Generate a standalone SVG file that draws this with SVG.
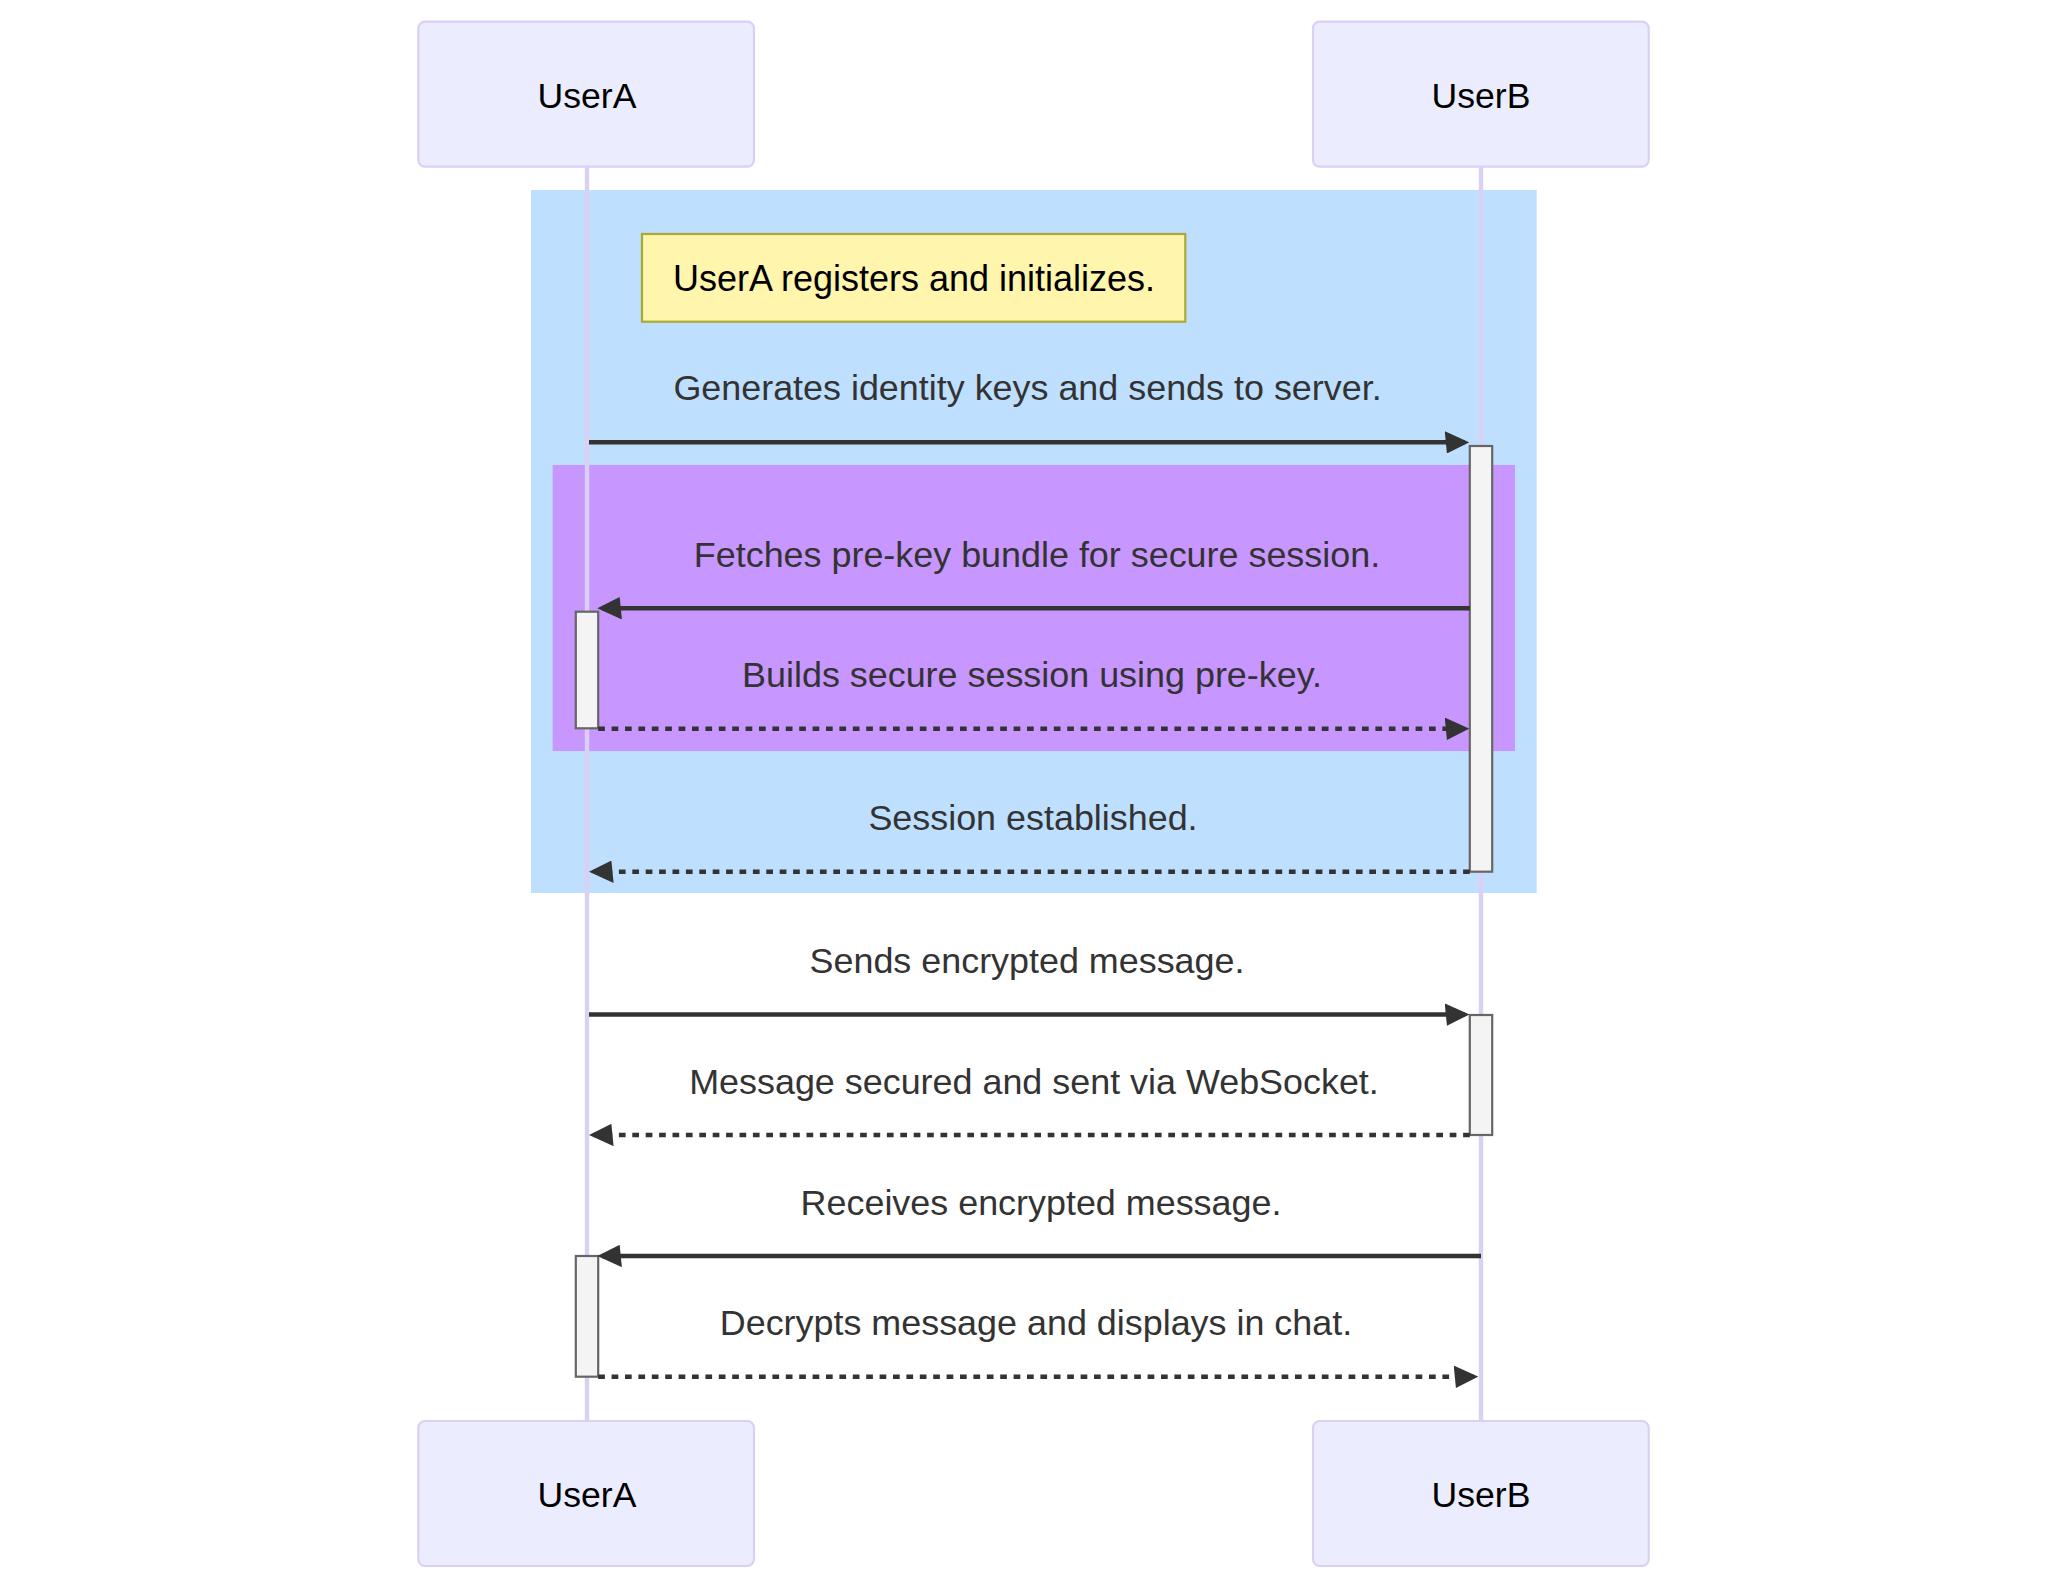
<svg xmlns="http://www.w3.org/2000/svg" width="2068" height="1592" viewBox="0 0 2068 1592">
<defs>
<style>
.actor{fill:#ECECFF;stroke:#DAD0F4;stroke-width:2.2}
.actor-text{font-family:"Liberation Sans",Arial,sans-serif;font-size:35.6px;fill:#000;text-anchor:middle}
.lifeline{stroke:#DAD0F4;stroke-width:4.4;fill:none}
.msg{font-family:"Liberation Sans",Arial,sans-serif;font-size:35.9px;fill:#333;text-anchor:middle}
.solid{stroke:#333;stroke-width:4.4;fill:none}
.dotted{stroke:#333;stroke-width:4.4;fill:none;stroke-dasharray:6.7 6.7}
.act{fill:#F4F4F4;stroke:#666;stroke-width:2.2}
.note{fill:#FFF5AD;stroke:#AAAA33;stroke-width:2.2}
.note-text{font-family:"Liberation Sans",Arial,sans-serif;font-size:36px;fill:#000;text-anchor:middle}
</style>
<marker id="arrow" viewBox="-1 0 11 10" refX="7.9" refY="5" markerWidth="24.6" markerHeight="22.36" markerUnits="userSpaceOnUse" orient="auto">
<path d="M -1 0 L 10 5 L 0 10 z" fill="#333"/>
</marker>
</defs>
<rect width="2068" height="1592" fill="#fff"/>
<g id="rect-outer"><rect x="531" y="190" width="1005.7" height="703" fill="#BFDFFF"/></g>
<g id="rect-inner"><rect x="552.7" y="465" width="962.3" height="286" fill="#C896FF"/></g>
<g id="lifelines">
<line class="lifeline" x1="587" y1="167" x2="587" y2="1421"/>
<line class="lifeline" x1="1481" y1="167" x2="1481" y2="1421"/>
</g>
<g id="actor-UserA-top"><rect class="actor" x="418.3" y="21.7" width="335.7" height="145" rx="6.7"/><text class="actor-text" x="587" y="108.3">UserA</text></g>
<g id="actor-UserB-top"><rect class="actor" x="1313" y="21.7" width="335.7" height="145" rx="6.7"/><text class="actor-text" x="1481" y="108.3">UserB</text></g>
<g id="actor-UserA-bottom"><rect class="actor" x="418.3" y="1421" width="335.7" height="145" rx="6.7"/><text class="actor-text" x="587" y="1507.3">UserA</text></g>
<g id="actor-UserB-bottom"><rect class="actor" x="1313" y="1421" width="335.7" height="145" rx="6.7"/><text class="actor-text" x="1481" y="1507.3">UserB</text></g>
<g id="note"><rect class="note" x="642" y="234" width="543.3" height="87.7"/><text class="note-text" x="914" y="290.5">UserA registers and initializes.</text></g>
<g id="activations">
<rect class="act" x="1469.8" y="446" width="22.4" height="425.7"/>
<rect class="act" x="575.8" y="611.7" width="22.4" height="116.6"/>
<rect class="act" x="1469.8" y="1015" width="22.4" height="120"/>
<rect class="act" x="575.8" y="1256" width="22.4" height="120.7"/>
</g>
<g id="connectors">
<line class="solid" x1="589" y1="442.3" x2="1464.6" y2="442.3" marker-end="url(#arrow)"/>
<line class="solid" x1="1469.8" y1="608.3" x2="602" y2="608.3" marker-end="url(#arrow)"/>
<line class="dotted" x1="598.2" y1="728.7" x2="1464.6" y2="728.7" marker-end="url(#arrow)"/>
<line class="dotted" x1="1469.8" y1="871.7" x2="593.7" y2="871.7" marker-end="url(#arrow)"/>
<line class="solid" x1="589" y1="1014.5" x2="1464.6" y2="1014.5" marker-end="url(#arrow)"/>
<line class="dotted" x1="1469.8" y1="1135" x2="593.7" y2="1135" marker-end="url(#arrow)"/>
<line class="solid" x1="1481" y1="1256" x2="602" y2="1256" marker-end="url(#arrow)"/>
<line class="dotted" x1="598.2" y1="1376.7" x2="1473.6" y2="1376.7" marker-end="url(#arrow)"/>
</g>
<g id="labels">
<text class="msg" x="1027.5" y="400.3">Generates identity keys and sends to server.</text>
<text class="msg" x="1037" y="566.5">Fetches pre-key bundle for secure session.</text>
<text class="msg" x="1032" y="687.2">Builds secure session using pre-key.</text>
<text class="msg" x="1033" y="830.2">Session established.</text>
<text class="msg" x="1027" y="972.8">Sends encrypted message.</text>
<text class="msg" x="1034" y="1093.5">Message secured and sent via WebSocket.</text>
<text class="msg" x="1041" y="1214.5">Receives encrypted message.</text>
<text class="msg" x="1036" y="1335.2">Decrypts message and displays in chat.</text>
</g>
</svg>
